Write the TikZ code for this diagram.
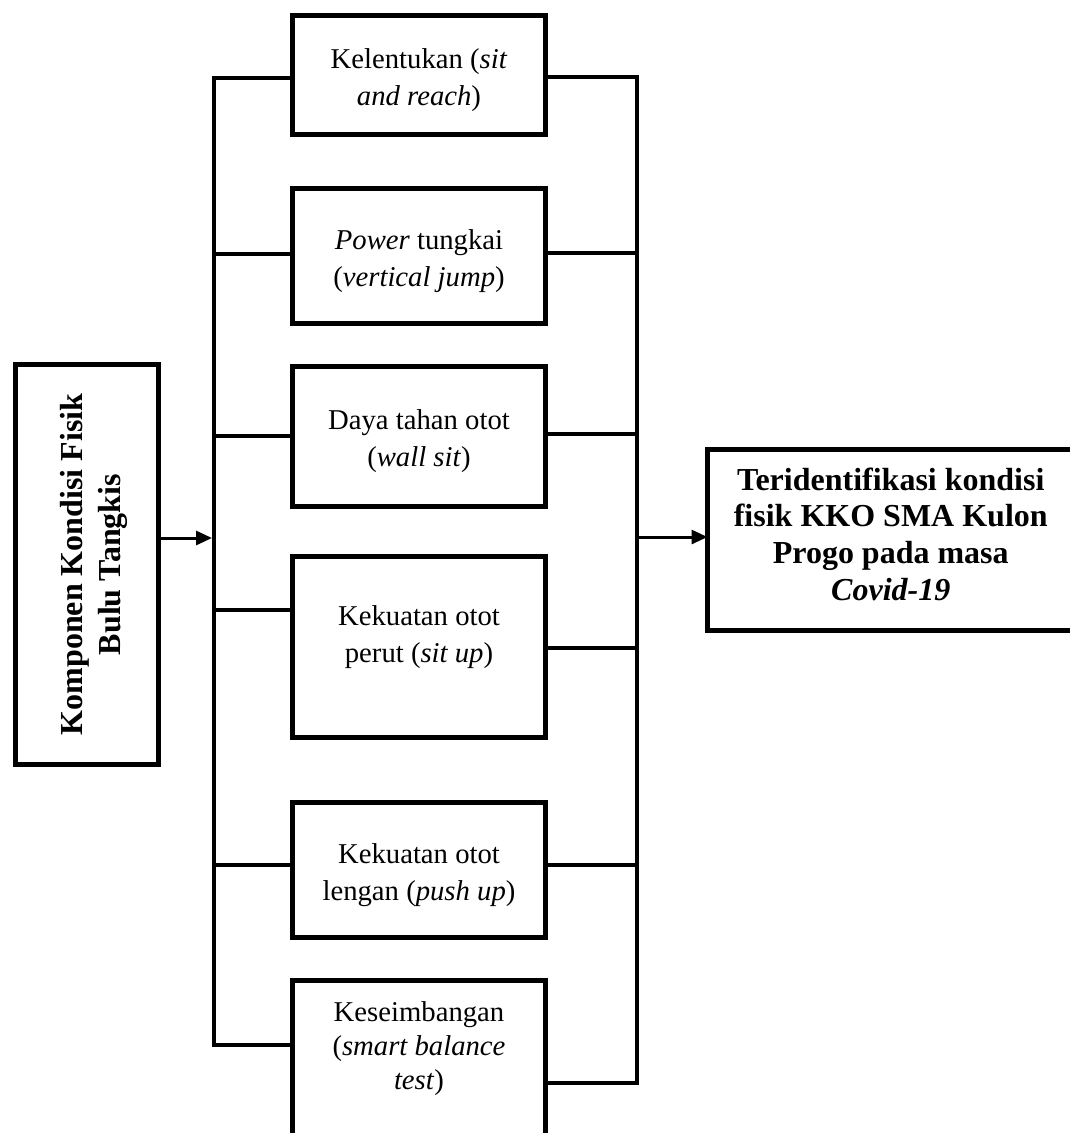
\documentclass[tikz,border=0pt]{standalone}
\usepackage{fontspec}
\setmainfont{Liberation Serif}
\usetikzlibrary{positioning, arrows.meta}

\begin{document}
\begin{tikzpicture}[
    x=1pt, y=-1pt,
    tes/.style={rectangle, draw, line width=5pt, outer sep=0pt, minimum width=253pt, text height=61pt, text depth=0pt, align=center, font=\fontsize{28.7pt}{37pt}\selectfont},
    box/.style={rectangle, draw, line width=5pt, outer sep=0pt, align=center, font=\fontsize{32pt}{36.7pt}\selectfont\bfseries},
    link/.style={line width=4pt, line cap=rect},
    arrow/.style={-{Triangle[length=16pt, width=14pt]}, line width=3pt}
]
    \useasboundingbox (0,0) rectangle (1070,1133);

    % input and result
    \node[box, rotate=90, minimum width=400pt, minimum height=143pt, text height=66pt, text depth=0pt, font=\fontsize{32pt}{38pt}\selectfont\bfseries] (komponen) at (87,564.5) {Komponen Kondisi Fisik\\Bulu Tangkis};
    \node[box, minimum width=366.5pt, minimum height=181pt, text depth=12pt] (hasil) at (890.75,540) {Teridentifikasi kondisi\\fisik KKO SMA Kulon\\Progo pada masa\\\textit{Covid-19}};

    % tests
    \node[tes, minimum height=119.5pt] (lentur) at (419,74.75) {Kelentukan (\textit{sit}\\\textit{and reach})};
    \node[tes, minimum height=135pt] (power) at (419,255.5) {\textit{Power} tungkai\\(\textit{vertical jump})};
    \node[tes, minimum height=140pt] (tahan) at (419,436) {Daya tahan otot\\(\textit{wall sit})};
    \node[tes, minimum height=181pt, text depth=30pt] (perut) at (419,646.5) {Kekuatan otot\\perut (\textit{sit up})};
    \node[tes, minimum height=135pt] (lengan) at (419,869.5) {Kekuatan otot\\lengan (\textit{push up})};
    \node[tes, anchor=north, inner sep=0pt, text height=109pt, text depth=100pt, font=\fontsize{28.7pt}{34pt}\selectfont] (imbang) at (419,980) {Keseimbangan\\(\textit{smart balance}\\\textit{test})};

    % bus lines
    \foreach \n/\yl/\yr in {lentur/78/77, power/254/253, tahan/436/434, perut/610/648, lengan/865/865, imbang/1045/1083} {
        \coordinate (L-\n) at (214,\yl);
        \coordinate (R-\n) at (637,\yr);
        \draw[link] (L-\n) -- (\n.west |- L-\n);
        \draw[link] (\n.east |- R-\n) -- (R-\n);
    }
    \draw[link] (L-lentur) -- (L-imbang);
    \draw[link] (R-lentur) -- (R-imbang);

    \coordinate (masuk) at (212,538);
    \coordinate (keluar) at (637,537);
    \draw[arrow] (komponen.south |- masuk) -- (masuk);
    \draw[arrow] (keluar) -- (hasil.west |- keluar);
\end{tikzpicture}
\end{document}
